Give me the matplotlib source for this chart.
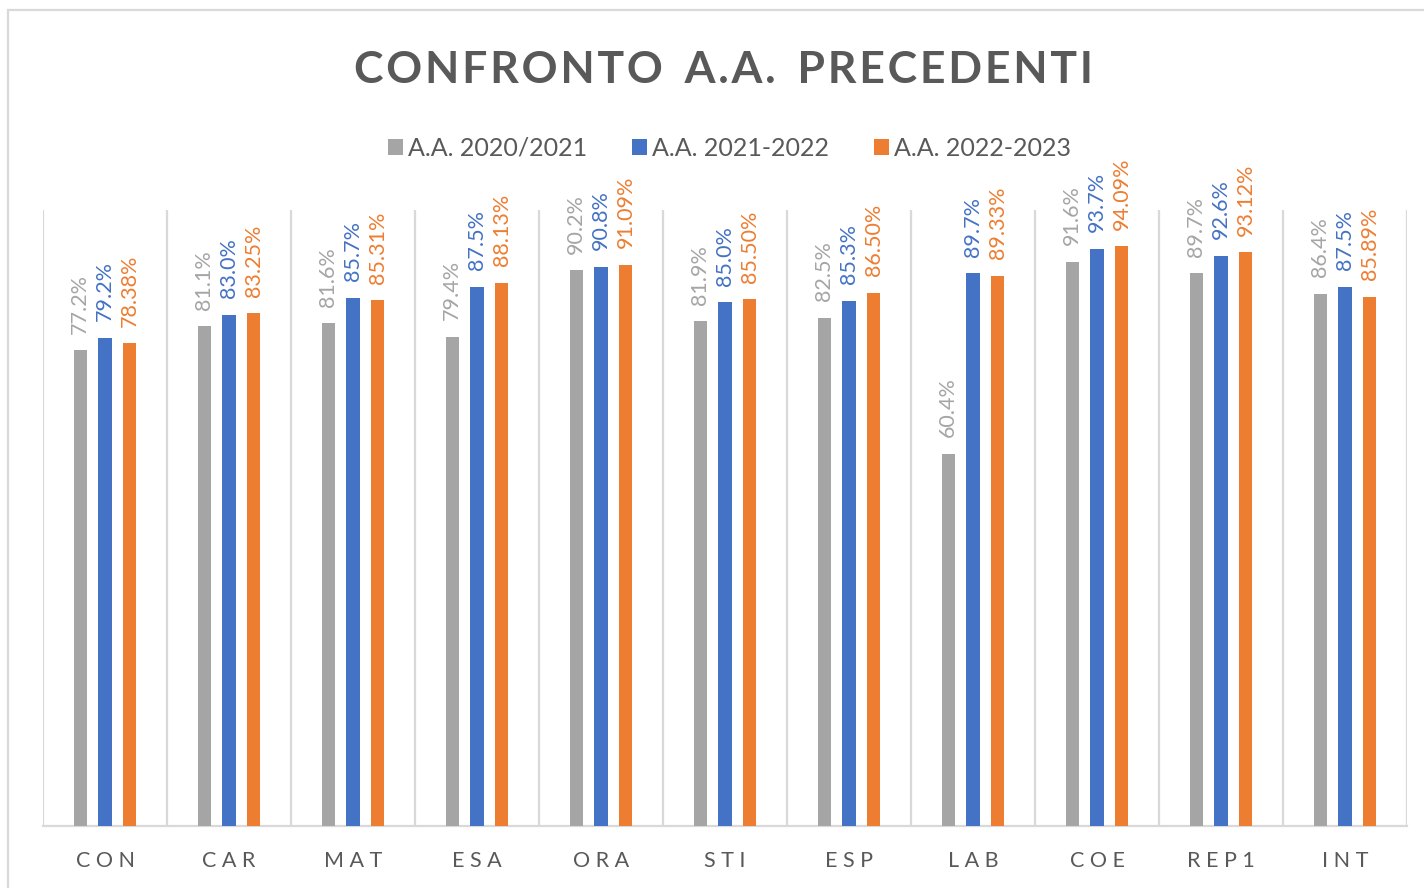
import matplotlib
matplotlib.use("Agg")
import matplotlib.pyplot as plt
import numpy as np
from matplotlib.patches import Rectangle

plt.rcParams['font.family'] = ['Lato', 'DejaVu Sans']

# data
categories = ["CON", "CAR", "MAT", "ESA", "ORA", "STI", "ESP", "LAB", "COE", "REP1", "INT"]
series_names = ["A.A. 2020/2021", "A.A. 2021-2022", "A.A. 2022-2023"]
aa_2020 = [77.2, 81.1, 81.6, 79.4, 90.2, 81.9, 82.5, 60.4, 91.6, 89.7, 86.4]
aa_2021 = [79.2, 83.0, 85.7, 87.5, 90.8, 85.0, 85.3, 89.7, 93.7, 92.6, 87.5]
aa_2022 = [78.38, 83.25, 85.31, 88.13, 91.09, 85.50, 86.50, 89.33, 94.09, 93.12, 85.89]
label_fmt = ["{:.1f}%", "{:.1f}%", "{:.2f}%"]
colors = ["#A5A5A5", "#4472C4", "#ED7D31"]

HS = "\u200a"  # hair space for letter spacing

fig = plt.figure(figsize=(14.24, 8.88), dpi=100)
ax = fig.add_axes([43/1424, 62/888, 1364/1424, 616/888])

x = np.arange(len(categories))
w = 0.105
offs = [-0.2, 0, 0.2]
for vals, off, c, fmt, name in zip([aa_2020, aa_2021, aa_2022], offs, colors, label_fmt, series_names):
    bars = ax.bar(x + off, vals, width=w, color=c, label=name, zorder=3)
    for b, v in zip(bars, vals):
        ax.annotate(fmt.format(v), (b.get_x() + b.get_width()/2, v),
                    xytext=(0, 12), textcoords="offset points",
                    rotation=90, ha="center", va="bottom",
                    fontsize=15.5, color=c)

ax.set_xlim(-0.5, len(categories) - 0.5)
ax.set_ylim(0, 100)
ax.set_yticks([])
ax.set_xticks(x)
ax.set_xticklabels([" ".join(list(c)) for c in categories], fontsize=15.5, color="#595959")
ax.tick_params(axis="x", length=0, pad=18)
for b in np.arange(-0.5, len(categories) + 0.5):
    ax.axvline(b, color="#D9D9D9", lw=1.6, zorder=1)
for s in ["top", "right", "left"]:
    ax.spines[s].set_visible(False)
ax.spines["bottom"].set_color("#D9D9D9")
ax.spines["bottom"].set_linewidth(1.6)

title = HS.join(list("CONFRONTO")) + "  " + HS.join(list("A.A.")) + "  " + HS.join(list("PRECEDENTI"))
fig.text(0.508, 0.921, title, ha="center", va="center",
         fontsize=32, fontweight="bold", color="#595959")

fig.legend(loc="center", bbox_to_anchor=(0.512, 0.833), ncol=3, frameon=False,
           fontsize=18, labelcolor="#595959", handlelength=0.6, handleheight=0.6,
           handletextpad=0.2, columnspacing=1.8)

fig.patches.append(Rectangle((8/1424, -0.05), 1.1, 0.05 + (888 - 10)/888,
                             transform=fig.transFigure, fill=False,
                             edgecolor="#D9D9D9", lw=1.6))

fig.savefig("out.png", dpi=100, facecolor="white")
